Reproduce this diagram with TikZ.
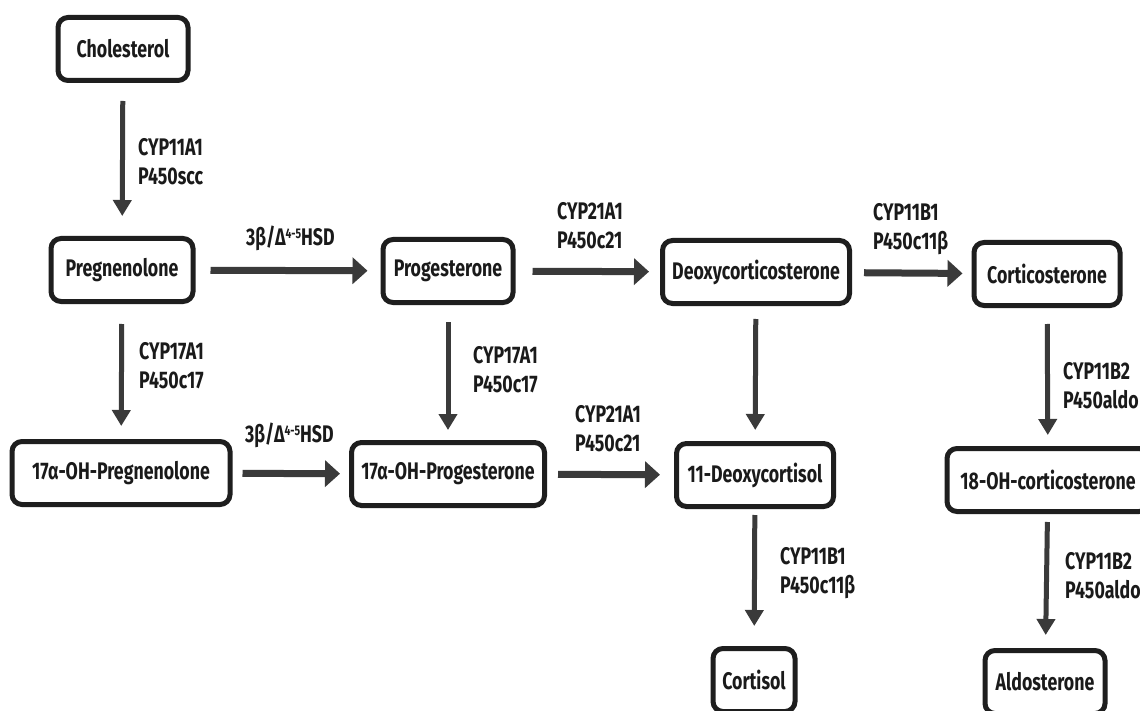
\documentclass[tikz,border=0pt]{standalone}
\usepackage{fontspec}
\setmainfont{Fira Sans}[FakeStretch=0.74]
\usetikzlibrary{arrows.meta}
\definecolor{boxline}{HTML}{1E1E1E}
\definecolor{arr}{HTML}{3A3A3A}
\definecolor{txt}{HTML}{1A1A1A}
\newcommand{\hsd}{3β/Δ\raisebox{7.5pt}{\fontsize{14}{14}\selectfont 4-5}HSD}
\begin{document}
\begin{tikzpicture}[x=1pt,y=-1pt,
  every node/.style={font=\fontsize{24}{29}\selectfont\bfseries, text=txt},
  metab/.style={draw=boxline, line width=5pt, rounded corners=10pt, minimum height=63pt, inner sep=0pt, fill=white},
  enz/.style={anchor=north west, align=left, inner sep=0pt},
  harr/.style={draw=arr, line width=7pt, -{Triangle[length=15pt,width=26pt]}},
  varr/.style={draw=arr, line width=5pt, -{Triangle[length=16pt,width=18pt]}},
]
\fill[white] (0,0) rectangle (1140,711);
\useasboundingbox (0,0) rectangle (1140,711);

% metabolites
\node[metab, minimum width=130pt] (chol) at (123,49) {Cholesterol};
\node[metab, minimum width=142pt] (preg) at (122,270) {Pregnenolone};
\node[metab, minimum width=130pt] (prog) at (448,271) {Progesterone};
\node[metab, minimum width=187pt] (doc) at (756,272) {Deoxycorticosterone};
\node[metab, minimum width=146pt] (cort) at (1047,274) {Corticosterone};
\node[metab, minimum width=218pt] (ohpreg) at (121,473) {17α-OH-Pregnenolone};
\node[metab, minimum width=193pt] (ohprog) at (448,474) {17α-OH-Progesterone};
\node[metab, minimum width=157pt] (dcl) at (755,475) {11-Deoxycortisol};
\node[metab, minimum width=202pt] (ohcort) at (1048,480) {18-OH-corticosterone};
\node[metab, minimum width=82pt] (cortisol) at (754,680) {Cortisol};
\node[metab, minimum width=120pt] (aldo) at (1045,682) {Aldosterone};

% horizontal reactions
\draw[harr, shorten <=15pt, shorten >=13pt] (preg) -- (prog);
\draw[harr, shorten <=17pt, shorten >=11pt] (prog) -- (doc);
\draw[harr, shorten <=12pt, shorten >=9pt] (doc) -- (cort);
\draw[harr, shorten <=10pt, shorten >=9pt] (ohpreg) -- (ohprog);
\draw[harr, shorten <=11pt, shorten >=14pt] (ohprog) -- (dcl);

% vertical reactions
\draw[varr, shorten <=18pt, shorten >=20pt] (chol) -- (preg);
\draw[varr, shorten <=20pt, shorten >=13pt] (preg) -- (ohpreg);
\draw[varr, shorten <=17pt, shorten >=10pt] (prog) -- (ohprog);
\draw[varr, shorten <=13pt, shorten >=11pt] (doc) -- (dcl);
\draw[varr, shorten <=16pt, shorten >=11pt] (cort) -- (ohcort);
\draw[varr, shorten <=6pt, shorten >=20pt] (dcl) -- (cortisol);
\draw[varr, shorten <=8pt, shorten >=13pt] (ohcort) -- (aldo);

% enzyme labels
\node[enz] (e1) at (138,138) {CYP11A1\\P450scc};
\node[enz] (e2) at (246,226) {\hsd};
\node[enz] (e3) at (557,202) {CYP21A1\\P450c21};
\node[enz] (e4) at (873,203) {CYP11B1\\P450c11β};
\node[enz] (e5) at (139,342) {CYP17A1\\P450c17};
\node[enz] (e6) at (473,346) {CYP17A1\\P450c17};
\node[enz] (e7) at (245,423) {\hsd};
\node[enz] (e8) at (575,405) {CYP21A1\\P450c21};
\node[enz] (e9) at (1063,362) {CYP11B2\\P450aldo};
\node[enz] (e10) at (780,547) {CYP11B1\\P450c11β};
\node[enz] (e11) at (1065,552) {CYP11B2\\P450aldo};
\end{tikzpicture}
\end{document}
